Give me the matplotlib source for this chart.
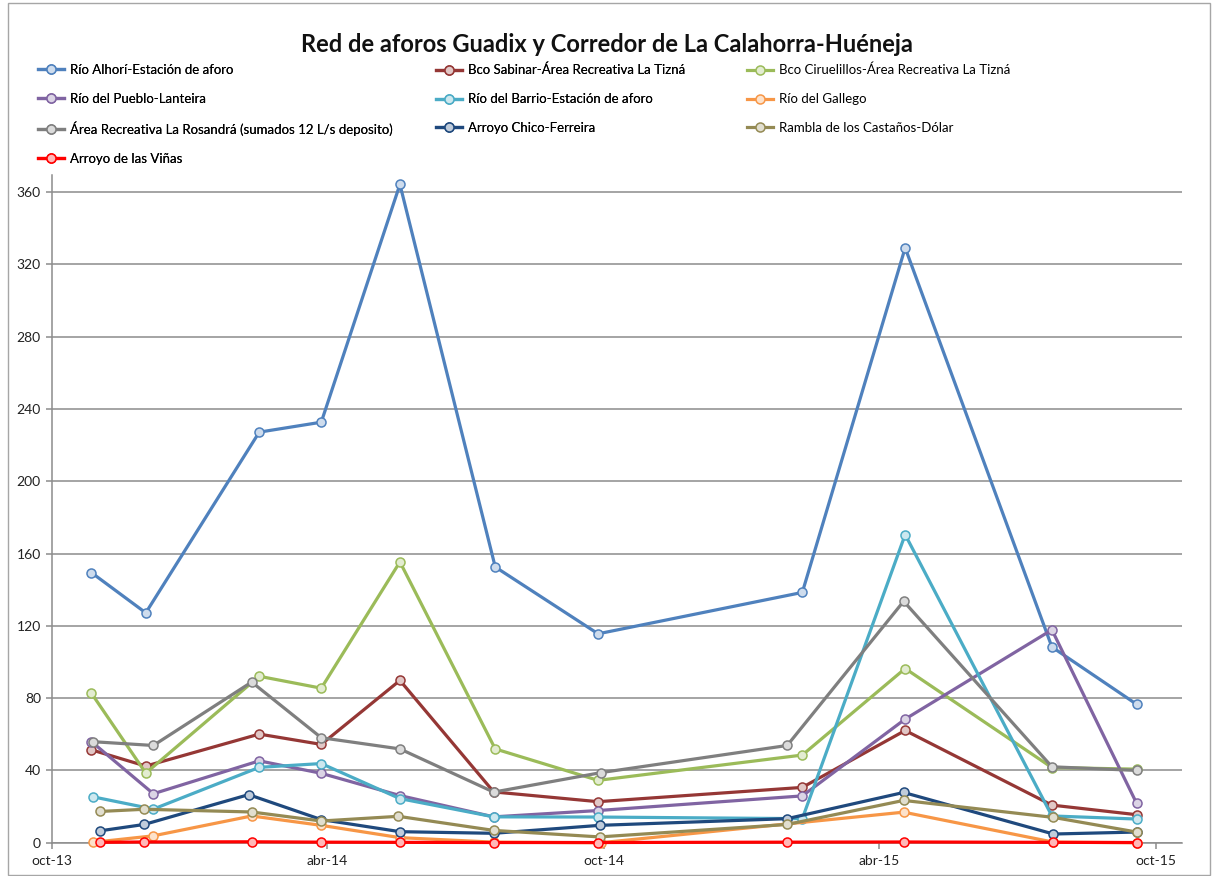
import matplotlib.pyplot as plt
import matplotlib.colors as mcolors
from matplotlib.lines import Line2D
from matplotlib.patches import Rectangle
import numpy as np

plt.rcParams['font.family'] = ['Lato', 'DejaVu Sans']

title = "Red de aforos Guadix y Corredor de La Calahorra-Huéneja"

# caudales medidos en cada estación (L/s)
alhori_fechas = ["2013-10-27", "2013-12-02", "2014-02-15", "2014-03-28", "2014-05-19", "2014-07-21",
                 "2014-09-27", "2015-02-09", "2015-04-18", "2015-07-24", "2015-09-18"]
alhori = [149.5, 127.2, 227.2, 232.7, 364.3, 152.6, 115.6, 138.5, 329.2, 108.3, 76.6]

sabinar_fechas = ["2013-10-27", "2013-12-02", "2014-02-15", "2014-03-28", "2014-05-19", "2014-07-20",
                  "2014-09-27", "2015-02-09", "2015-04-18", "2015-07-24", "2015-09-18"]
sabinar = [51.4, 42.4, 60.1, 54.4, 89.8, 28.1, 22.7, 30.6, 62.1, 20.8, 15.5]

ciruelillos_fechas = ["2013-10-27", "2013-12-02", "2014-02-15", "2014-03-28", "2014-05-19", "2014-07-21",
                      "2014-09-27", "2015-02-09", "2015-04-18", "2015-07-24", "2015-09-18"]
ciruelillos = [82.8, 38.5, 92.1, 85.5, 155.4, 51.9, 34.5, 48.5, 96.4, 41.6, 40.7]

pueblo_fechas = ["2013-10-27", "2013-12-07", "2014-02-15", "2014-03-28", "2014-05-19", "2014-07-20",
                 "2014-09-27", "2015-02-09", "2015-04-18", "2015-07-24", "2015-09-18"]
pueblo = [56.0, 27.1, 45.3, 38.4, 26.1, 14.3, 17.8, 25.9, 68.4, 117.8, 21.8]

barrio_fechas = ["2013-10-28", "2013-12-07", "2014-02-15", "2014-03-28", "2014-05-19", "2014-07-20",
                 "2014-09-27", "2015-02-09", "2015-04-18", "2015-07-24", "2015-09-18"]
barrio = [25.4, 18.6, 41.7, 43.8, 24.4, 14.3, 14.2, 13.3, 170.5, 14.8, 13.1]

gallego_fechas = ["2013-10-28", "2013-12-07", "2014-02-10", "2014-03-28", "2014-05-19", "2014-07-20",
                  "2014-09-29", "2015-04-17", "2015-07-25", "2015-09-18"]
gallego = [0.2, 3.8, 14.8, 9.6, 2.8, 0.3, 0.0, 16.9, 0.3, 0.0]

rosandra_fechas = ["2013-10-28", "2013-12-07", "2014-02-10", "2014-03-28", "2014-05-19", "2014-07-20",
                   "2014-09-29", "2015-01-30", "2015-04-17", "2015-07-24", "2015-09-18"]
rosandra = [55.9, 53.8, 88.9, 58.1, 51.9, 28.0, 38.8, 53.8, 133.6, 42.0, 40.0]

chico_fechas = ["2013-11-02", "2013-12-01", "2014-02-08", "2014-03-28", "2014-05-19", "2014-07-20",
                "2014-09-28", "2015-01-30", "2015-04-17", "2015-07-25", "2015-09-18"]
chico = [6.6, 10.1, 26.6, 12.8, 6.1, 5.2, 9.6, 13.3, 27.8, 4.8, 5.9]

castanos_fechas = ["2013-11-02", "2013-12-01", "2014-02-10", "2014-03-28", "2014-05-18", "2014-07-20",
                   "2014-09-28", "2015-01-30", "2015-04-17", "2015-07-25", "2015-09-18"]
castanos = [17.3, 18.5, 17.0, 12.0, 14.6, 6.8, 3.2, 10.1, 23.4, 14.0, 5.9]

vinas_fechas = ["2013-11-02", "2013-12-01", "2014-02-10", "2014-03-28", "2014-05-19", "2014-07-20",
                "2014-09-27", "2015-01-30", "2015-04-17", "2015-07-25", "2015-09-18"]
vinas = [0.2, 0.4, 0.5, 0.3, 0.2, 0.1, 0.1, 0.3, 0.4, 0.2, 0.1]

series = [
    ("Río Alhorí-Estación de aforo", alhori_fechas, alhori, "#4F81BD"),
    ("Bco Sabinar-Área Recreativa La Tizná", sabinar_fechas, sabinar, "#953735"),
    ("Bco Ciruelillos-Área Recreativa La Tizná", ciruelillos_fechas, ciruelillos, "#9BBB59"),
    ("Río del Pueblo-Lanteira", pueblo_fechas, pueblo, "#8064A2"),
    ("Río del Barrio-Estación de aforo", barrio_fechas, barrio, "#4BACC6"),
    ("Río del Gallego", gallego_fechas, gallego, "#F79646"),
    ("Área Recreativa La Rosandrá (sumados 12 L/s deposito)", rosandra_fechas, rosandra, "#7F7F7F"),
    ("Arroyo Chico-Ferreira", chico_fechas, chico, "#1F497D"),
    ("Rambla de los Castaños-Dólar", castanos_fechas, castanos, "#948A54"),
    ("Arroyo de las Viñas", vinas_fechas, vinas, "#FF0000"),
]

tick_fechas = ["2013-10-01", "2014-04-01", "2014-10-01", "2015-04-01", "2015-10-01"]
tick_labels = ["oct-13", "abr-14", "oct-14", "abr-15", "oct-15"]
y_ticks = [0, 40, 80, 120, 160, 200, 240, 280, 320, 360]


def light(c, f=0.72):
    r, g, b = mcolors.to_rgb(c)
    return (r + (1 - r) * f, g + (1 - g) * f, b + (1 - b) * f)


W, H = 1213, 876
fig = plt.figure(figsize=(W / 100, H / 100), dpi=100)
ax = fig.add_axes([52 / W, 1 - 842.7 / H, (1182 - 52) / W, (842.7 - 175) / H])

grid_col = "#8C8C8C"
for name, fechas, vals, col in series:
    x = np.array(fechas, dtype="datetime64[D]")
    ax.plot(x, vals, color=col, lw=2.3, marker="o", ms=6.5, mew=1.1,
            mec=col, mfc=light(col), label=name, zorder=3, clip_on=False)

ax.set_ylim(0, 369.5)
ax.set_xlim(np.datetime64("2013-10-01"), np.datetime64("2015-10-18"))
ax.set_yticks(y_ticks)
ax.set_xticks(np.array(tick_fechas, dtype="datetime64[D]"))
ax.set_xticklabels(tick_labels)
ax.yaxis.grid(True, color=grid_col, lw=1.1)
ax.set_axisbelow(True)

for s in ["top", "right"]:
    ax.spines[s].set_visible(False)
for s in ["left", "bottom"]:
    ax.spines[s].set_color(grid_col)
    ax.spines[s].set_linewidth(1.1)
ax.tick_params(axis="both", colors=grid_col, length=4, width=1.1, labelsize=10, labelcolor="#222222")
ax.tick_params(axis="x", pad=5)
ax.tick_params(axis="y", pad=4)

fig.text(0.5, 1 - 44 / H, title, ha="center", va="center", fontsize=17, fontweight="bold", color="#111111")

# leyenda en tres columnas, colocadas por separado
columnas = [[0, 3, 6, 9], [1, 4, 7], [2, 5, 8]]
col_x = [38, 436, 747]
for i, (idx, cx) in enumerate(zip(columnas, col_x)):
    hs = [Line2D([], [], color=series[k][3], lw=2.3, marker="o", ms=6.5, mew=1.1,
                 mec=series[k][3], mfc=light(series[k][3])) for k in idx]
    labs = [series[k][0] for k in idx]
    leg = fig.legend(hs, labs, loc="upper left", bbox_to_anchor=(cx / W, 1 - 64 / H),
                     frameon=False, fontsize=9.5, handlelength=2.0, handletextpad=0.4,
                     labelspacing=1.27, borderpad=0, borderaxespad=0)
    if i < 2:
        fig.add_artist(leg)

fig.patches.append(Rectangle((8 / W, 1 / H), 1 - 11 / W, 1 - 4 / H, transform=fig.transFigure,
                             fill=False, edgecolor="#A6A6A6", lw=1.0))

fig.savefig("out.png", dpi=100)
